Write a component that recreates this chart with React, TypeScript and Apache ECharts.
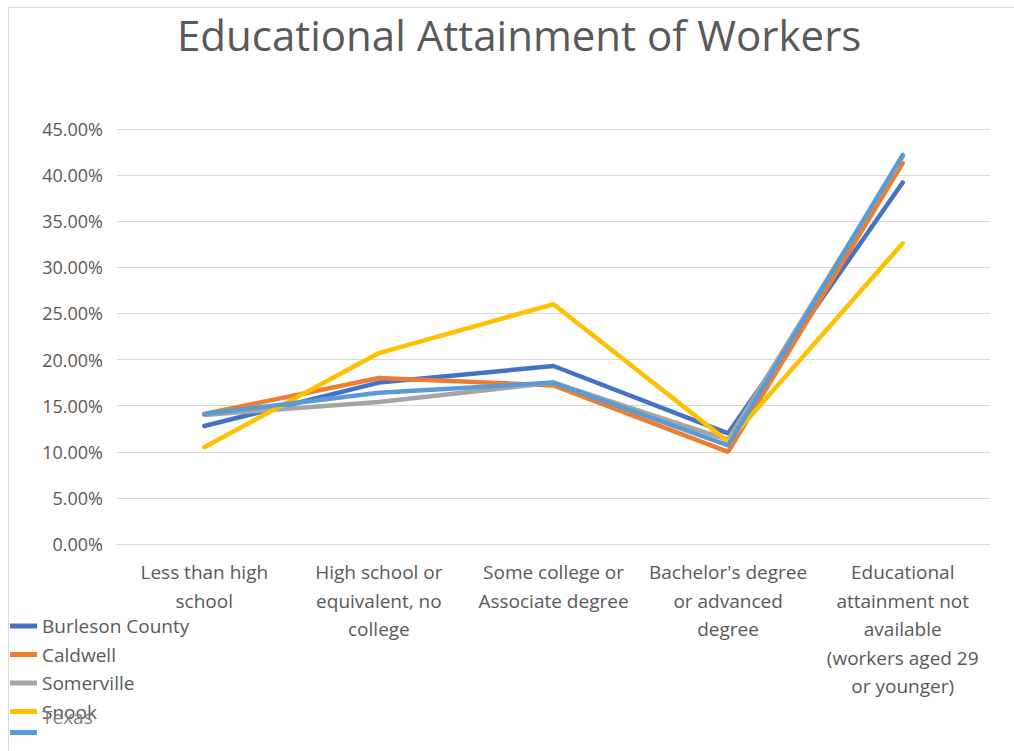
import React, { useEffect, useRef } from "react";
import * as echarts from "echarts";

const categories = [
  "Less than high\nschool",
  "High school or\nequivalent, no\ncollege",
  "Some college or\nAssociate degree",
  "Bachelor's degree\nor advanced\ndegree",
  "Educational\nattainment not\navailable\n(workers aged 29\nor younger)",
];

const burleson = [0.128, 0.175, 0.193, 0.12, 0.392];
const caldwell = [0.141, 0.18, 0.172, 0.1, 0.413];
const somerville = [0.14, 0.154, 0.175, 0.113, 0.42];
const snook = [0.105, 0.207, 0.26, 0.111, 0.326];
const texas = [0.141, 0.164, 0.175, 0.107, 0.422];

const seriesNames = ["Burleson County", "Caldwell", "Somerville", "Snook", "Texas"];
const seriesData = [burleson, caldwell, somerville, snook, texas];
const colors = ["#4472C4", "#ED7D31", "#A5A5A5", "#FFC000", "#5B9BD5"];

const FONT = "'Open Sans', 'Noto Sans', sans-serif";
const TEXT = "#595959";

export default function App() {
  const ref = useRef<HTMLDivElement>(null);
  useEffect(() => {
    if (!ref.current) return;
    const chart = echarts.init(ref.current, undefined, { renderer: "svg" });
    chart.setOption({
      animation: false,
      backgroundColor: "#ffffff",
      color: colors,
      title: {
        text: "Educational Attainment of Workers",
        left: 172,
        top: 8,
        textStyle: { fontFamily: FONT, fontSize: 42, fontWeight: "normal", color: TEXT },
      },
      legend: [
        {
          orient: "vertical",
          left: 10,
          top: 616,
          padding: 0,
          itemWidth: 27,
          itemHeight: 5,
          itemGap: 8.5,
          icon: "rect",
          data: seriesNames,
          formatter: (name: string) => (name === "Texas" ? "" : name),
          textStyle: { fontFamily: FONT, fontSize: 19, color: TEXT, lineHeight: 20 },
        },
        {
          orient: "vertical",
          left: 37,
          top: 707,
          padding: 0,
          itemWidth: 0,
          itemHeight: 5,
          icon: "rect",
          data: ["Texas"],
          itemStyle: { opacity: 0 },
          lineStyle: { opacity: 0 },
          textStyle: { fontFamily: FONT, fontSize: 19, color: "#7f7f7f", lineHeight: 20 },
        },
      ],
      grid: { left: 117, right: 24, top: 129, bottom: 207, containLabel: false },
      xAxis: {
        type: "category",
        data: categories,
        boundaryGap: true,
        axisLine: { show: true, lineStyle: { color: "#d9d9d9" } },
        axisTick: { show: false },
        axisLabel: {
          interval: 0,
          margin: 14,
          fontFamily: FONT,
          fontSize: 19,
          lineHeight: 28.5,
          color: TEXT,
        },
      },
      yAxis: {
        type: "value",
        min: 0,
        max: 0.45,
        interval: 0.05,
        axisLine: { show: false },
        axisTick: { show: false },
        splitLine: { lineStyle: { color: "#d9d9d9", width: 1 } },
        axisLabel: {
          margin: 14,
          fontFamily: FONT,
          fontSize: 18,
          color: TEXT,
          formatter: (v: number) => (v * 100).toFixed(2) + "%",
        },
      },
      series: seriesNames.map((name, i) => ({
        name,
        type: "line",
        data: seriesData[i],
        symbol: "none",
        lineStyle: { width: 4.5, color: colors[i], cap: "round" },
        itemStyle: { color: colors[i] },
      })),
      graphic: [
        { type: "line", shape: { x1: 8, y1: 7.5, x2: 1014, y2: 7.5 }, style: { stroke: "#d9d9d9", lineWidth: 1 } },
        { type: "line", shape: { x1: 8.5, y1: 7, x2: 8.5, y2: 751 }, style: { stroke: "#d9d9d9", lineWidth: 1 } },
      ],
    });
    return () => chart.dispose();
  }, []);
  return (
    <div
      ref={ref}
      style={{ position: "fixed", left: 0, top: 0, width: 1014, height: 751 }}
    />
  );
}
